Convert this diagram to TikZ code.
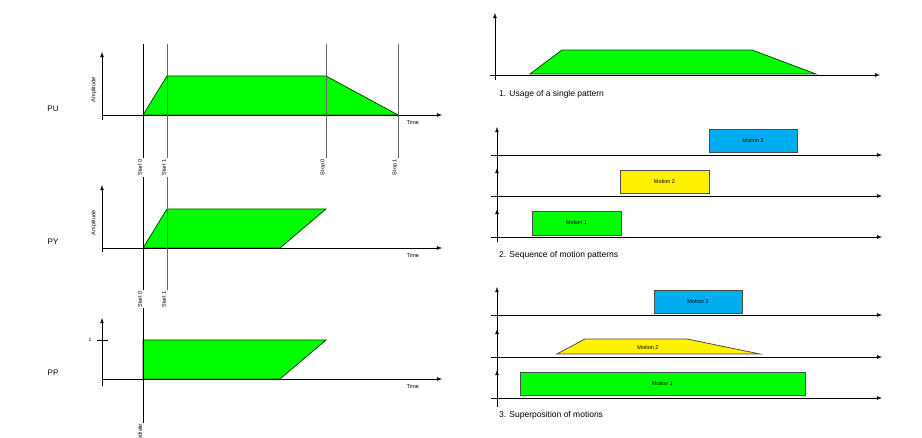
\documentclass[tikz,border=0pt]{standalone}
\usepackage{fontspec}
\setmainfont{Liberation Sans}
\usetikzlibrary{arrows}

\begin{document}
\begin{tikzpicture}%
        [x=1pt, y=-1pt,
        axis/.style={color=black,thick,-latex},
        guide/.style={color=black!60,thick},
        motion/.style={fill=green,draw=black!70!green,thick},
        lbl/.style={font=\fontsize{5.5}{6}\selectfont,inner sep=1pt},
        tlabel/.style={lbl,rotate=90,anchor=east},
        caption/.style={font=\fontsize{8.5}{10}\selectfont,anchor=west,inner sep=0pt},
        panel/.style={font=\fontsize{8}{9}\selectfont},
        mbox/.style={draw=black!70,thick}]

    \useasboundingbox (0,0) rectangle (922,438);

    %% Drawing the PU panel
    \filldraw[motion] (143,115) -- (167,76) -- (326,76) -- (398,115) -- cycle;
    \draw[axis] (102,120) -- (102,52);
    \draw[axis] (102,115) -- (442,115);
    \draw[black] (143,44) -- (143,158);
    \foreach \xx in {167,326,398} \draw[guide] (\xx,44) -- (\xx,158);
    \node[tlabel] (s0) at (140,158) {Start 0};
    \node[tlabel] (s1) at (164,158) {Start 1};
    \node[tlabel] (p0) at (323,158) {Stop 0};
    \node[tlabel] (p1) at (395,158) {Stop 1};
    \node[lbl] (timeu) at (413,123) {Time};
    \node[lbl,rotate=90] (ampu) at (94,90) {Amplitude};
    \node[panel] (pu) at (53,109) {PU};

    %% Drawing the PY panel
    \filldraw[motion] (143,248) -- (167,209) -- (326,209) -- (280,248) -- cycle;
    \draw[axis] (102,252) -- (102,185);
    \draw[axis] (102,248) -- (442,248);
    \draw[black] (143,177) -- (143,290);
    \draw[guide] (167,177) -- (167,290);
    \node[tlabel] (y0) at (140,290) {Start 0};
    \node[tlabel] (y1) at (164,290) {Start 1};
    \node[lbl] (timey) at (413,256) {Time};
    \node[lbl,rotate=90] (ampy) at (94,223) {Amplitude};
    \node[panel] (py) at (53,242) {PY};

    %% Drawing the PP panel
    \filldraw[motion] (143,379) -- (143,340) -- (326,340) -- (280,379) -- cycle;
    \draw[axis] (102,386) -- (102,318);
    \draw[axis] (102,379) -- (442,379);
    \draw[black] (97,340) -- (108,340);
    \node[font=\fontsize{5}{6}\selectfont] (one) at (90,340) {1};
    \draw[black] (143,308) -- (143,423);
    \node[tlabel] (im) at (140,423) {Immediate};
    \node[lbl] (timep) at (413,387) {Time};
    \node[panel] (pp) at (53,373) {PP};

    %% 1. single pattern
    \filldraw[motion] (530,74) -- (562,50) -- (752,50) -- (816,74) -- cycle;
    \draw[axis] (495,80) -- (495,13);
    \draw[axis] (490,75) -- (880,75);
    \node[caption] (c1) at (499,94) {1. Usage of a single pattern};

    %% 2. sequence
    \draw[black,thick] (497,242) -- (497,140);
    \foreach \yy in {155,196,237} {
        \draw[axis] (491,\yy) -- (882,\yy);
        \draw[axis] (497,\yy-8) -- (497,\yy-28);
    }
    \node[mbox,fill=cyan,minimum width=88pt,minimum height=23pt,lbl] (m3) at (753,140.5) {Motion 3};
    \node[mbox,fill=yellow,minimum width=89pt,minimum height=23pt,lbl] (m2) at (664.5,181.5) {Motion 2};
    \node[mbox,fill=green,minimum width=89pt,minimum height=24pt,lbl] (m1) at (576.5,223) {Motion 1};
    \node[caption] (c2) at (499,255) {2. Sequence of motion patterns};

    %% 3. superposition
    \draw[black,thick] (497,407) -- (497,300);
    \foreach \yy in {315,357,398} {
        \draw[axis] (491,\yy) -- (882,\yy);
        \draw[axis] (497,\yy-8) -- (497,\yy-28);
    }
    \node[mbox,fill=cyan,minimum width=88pt,minimum height=23pt,lbl] (n3) at (698,301.5) {Motion 3};
    \draw[mbox,fill=yellow] (557,354) -- (585,339) -- (687,339) -- (760,354) -- cycle;
    \node[lbl] (n2) at (648,348) {Motion 2};
    \node[mbox,fill=green,minimum width=285pt,minimum height=23pt,lbl] (n1) at (662.5,383.5) {Motion 1};
    \node[caption] (c3) at (499,415) {3. Superposition of motions};
\end{tikzpicture}
\end{document}
